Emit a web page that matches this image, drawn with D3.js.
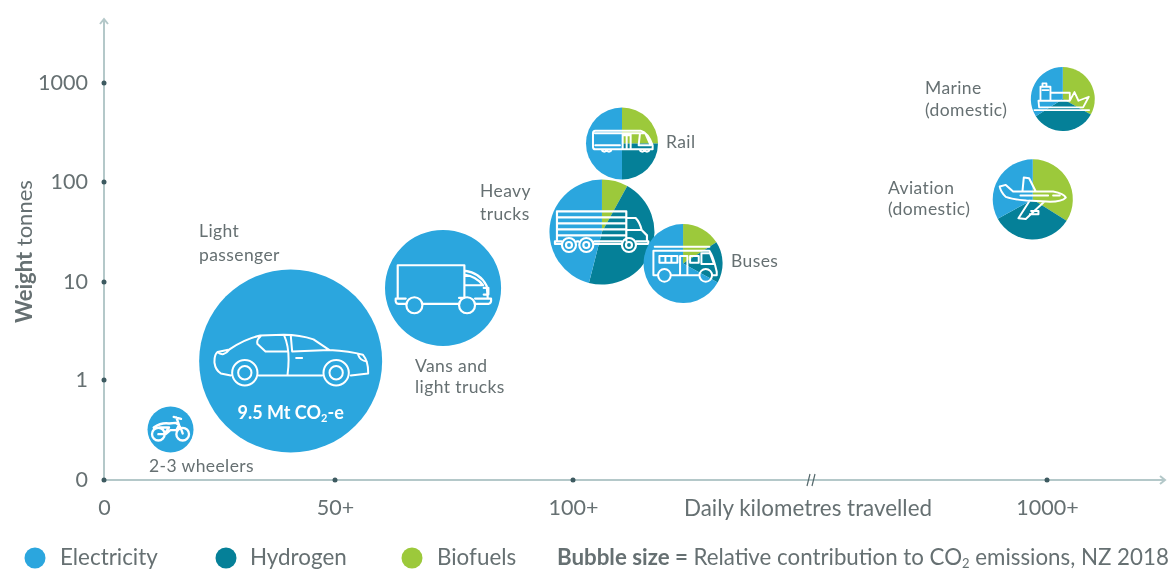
<!DOCTYPE html>
<html><head><meta charset="utf-8">
<style>
html,body{margin:0;padding:0;background:#fff;overflow:hidden}
svg{display:block;filter:blur(0.45px)}
text{font-family:Lato,"Open Sans",sans-serif;fill:#667072}
</style>
<script src="https://cdn.jsdelivr.net/npm/d3@7/dist/d3.min.js"></script>
</head><body><svg id="c" width="1170" height="570"></svg>
<script>
// ---- data ----
const categories = ["2-3 wheelers","Light passenger","Vans and light trucks","Heavy trucks","Rail","Buses","Marine (domestic)","Aviation (domestic)"];
const dailyKm    = [14.4,40.4,72.7,155,193,309,1030,973];
const weightT    = [0.32,1.56,8.7,31.6,245,15.3,688,67];
const emissionsMt= [0.6,9.5,3.82,3.13,1.47,1.77,1.16,1.82];
const biofuelShare  = [0,0,0,8,25,16,33,34];
const hydrogenShare = [0,0,0,46,25,17,33,33];
const electricityShare = [100,100,100,46,50,67,34,33];
const energyNames = ["Electricity","Hydrogen","Biofuels"];
const xTicks = [0,50,100,1000];
const xTickLabels = ["0","50+","100+","1000+"];
const yTicks = [0,1,10,100,1000];
const yTickLabels = ["0","1","10","100","1000"];

const colours = {Electricity:"#2ba6de",Hydrogen:"#058098",Biofuels:"#9cc93b"};
const svg = d3.select("#c");

// ---- scales ----
const x = d3.scaleLinear().domain(xTicks).range([104,335,573,1047]);
const level = v => v>0 ? Math.log10(v) : -1;
const yLevel = d3.scaleLinear().domain(yTicks.map(level)).range([480,380,282,182,83]);
const y = v => yLevel(level(v));
const r = d3.scaleSqrt().domain([0,9.5]).range([0,91.5]);

// ---- axes ----
const axisCol="#b4c8c9", dotCol="#3d5a60";
const gx = svg.append("g").attr("transform","translate(0,480)")
  .call(d3.axisBottom(x).tickValues(xTicks).tickFormat((d,i)=>xTickLabels[i]).tickSize(0).tickPadding(20));
const gy = svg.append("g").attr("transform","translate(104,0)")
  .call(d3.axisLeft(yLevel).tickValues(yTicks.map(level)).tickFormat((d,i)=>yTickLabels[i]).tickSize(0).tickPadding(16));
gx.select(".domain").remove(); gy.select(".domain").remove();
gx.selectAll("text").style("font-size","21.5px").style("font-family","Lato");
gy.selectAll("text").style("font-size","21.5px").style("font-family","Lato");
const axisG = svg.append("g").attr("fill","none").attr("stroke",axisCol).attr("stroke-width",2);
axisG.append("path").attr("d",`M${x(0)},${yLevel(-1)}H1165M1160,476L1165,480L1160,484`);
axisG.append("path").attr("d",`M${x(0)},${yLevel(-1)}V19M100,24L104,19L108,24`);
svg.append("g").selectAll("circle").data(xTicks).join("circle")
  .attr("cx",d=>x(d)).attr("cy",yLevel(-1)).attr("r",2.5).attr("fill",dotCol);
svg.append("g").selectAll("circle").data(yTicks.slice(1)).join("circle")
  .attr("cx",x(0)).attr("cy",d=>y(d)).attr("r",2.5).attr("fill",dotCol);
svg.append("path").attr("d","M807,486L810,474M812,486L815,474").attr("stroke","#55686c").attr("stroke-width",1.2).attr("fill","none");
svg.append("text").attr("x",684).attr("y",516).style("font-size","22.4px").text("Daily kilometres travelled");
const yt = svg.append("text").attr("transform","translate(32,323) rotate(-90)").style("font-size","22px");
yt.append("tspan").attr("font-weight",700).text("Weight");
yt.append("tspan").text(" tonnes");

// ---- bubbles ----
const arc = d3.arc().innerRadius(0);
const pie = d3.pie().sort(null).value(d=>d.v);
const bubbles = svg.append("g").selectAll("g").data(categories.map((c,i)=>({
   c,i,cx:x(dailyKm[i]),cy:y(weightT[i]),r:r(emissionsMt[i]),
   parts:[{k:"Biofuels",v:biofuelShare[i]},{k:"Hydrogen",v:hydrogenShare[i]},{k:"Electricity",v:electricityShare[i]}]
}))).join("g").attr("transform",d=>`translate(${d.cx},${d.cy})`);
bubbles.selectAll("path.s").data(d=>pie(d.parts).map(p=>({...p,R:d.r}))).join("path").attr("class","s")
  .attr("d",p=>arc.outerRadius(p.R)(p)).attr("fill",p=>colours[p.data.k]);

// ---- pictograms (drawn in their own local units, centred on each bubble) ----
const ring = (cx,cy,rad) => `M${cx-rad},${cy}a${rad},${rad} 0 1,1 ${2*rad},0a${rad},${rad} 0 1,1 ${-2*rad},0`;
const icons = [
 {o:[76.5,72],s:1/3,w:7,d:ring(40,86,19)+ring(113,86,19)+"M26,66Q50,50 72,54L92,52Q106,58 113,84M40,86H62L76,74H94L102,58L94,36M86,34L108,40M44,66H72L62,80"},
 {o:[271.5,123],s:1/3,w:6,d:"M92,166L62,160Q46,150 43,128Q42,104 52,96L88,88Q130,58 180,46L250,44Q300,44 340,58L388,90Q450,94 488,104Q505,125 504,160L452,166M176,166H366M182,48Q168,60 172,72L196,94H262M252,46Q272,90 262,166M272,48L276,94L388,90M288,114H306M52,96Q70,112 88,88M474,104Q480,122 500,124"+ring(134,158,38)+ring(134,158,20)+ring(408,158,38)+ring(408,158,20)},
 {o:[174,114],s:1/3,w:6.5,d:"M38,144V46H238V144M238,62Q285,68 305,108L308,144M238,74Q275,80 294,106H238M32,146H62M32,146Q30,162 40,162H62M114,162H220M272,162H310Q320,160 318,146H270M296,114H310V134H296M238,106V144H222"+ring(88,166,24)+ring(246,166,24)},
 {o:[171,96],s:1/3,w:6.5,d:"M36,34H244V122M36,34V122M36,52H244M36,70H244M36,88H244M36,106H244M244,54H272Q284,66 290,90L306,106V124M248,90H290M30,124H50M96,124H100M148,124H230M274,124H310V132H274M148,132H230M30,124V132H50"+ring(72,135,21)+ring(72,135,9)+ring(124,135,21)+ring(124,135,9)+ring(252,135,21)+ring(252,135,9)},
 {o:[246,160.5],s:1/3,w:6,d:"M166,122H302Q325,128 338,166V178H166Q159,178 159,170V130Q159,122 166,122ZM165,130H300M248,130V178M272,130V178M260,130V178M248,136H272M300,130H316L332,166H296ZM166,166H240M186,178a7,7 0 1,0 14,0M200,178a7,7 0 1,0 14,0M300,178a7,7 0 1,0 14,0M314,178a7,7 0 1,0 14,0"},
 {o:[429,520.5],s:1/3,w:6,d:"M344,470H508M340,482H508Q520,500 530,545V556H516M478,556H392M354,556H340V482M358,498H412V518H358ZM376,498V518M394,498V518M420,498H442V556H420ZM450,498H476V518H450ZM484,490H510L522,522H484Z"+ring(373,556,19)+ring(497,556,19)},
 {o:[99,87],s:1/3,w:5.5,d:"M28,112L26,92H120L134,66L146,92L177,80L160,112ZM32,92V50H62V92M38,50V40H50V50M62,68H120V92M38,60H56M14,120H178"},
 {o:[129,103.5],s:1/3,w:6,d:"M48,96Q32,80 30,65L48,60L70,80H190Q222,86 228,98Q215,112 170,110L110,107Q70,104 48,96ZM98,80L102,38L118,40L138,80M120,107L86,160L108,162L164,110M124,138H146V148H120M190,92H210M92,92H175"}
];
bubbles.filter(d=>icons[d.i]).append("path")
  .attr("d",d=>icons[d.i].d)
  .attr("transform",d=>{const k=icons[d.i];return `scale(${k.s}) translate(${-k.o[0]},${-k.o[1]})`;})
  .attr("fill","none").attr("stroke","#fff").attr("stroke-width",d=>icons[d.i].w).attr("stroke-linejoin","round").attr("stroke-linecap","round");

// in-bubble value label
const co2 = svg.append("text").attr("x",x(dailyKm[1])).attr("y",y(weightT[1])+58).attr("text-anchor","middle")
  .style("font-size","18px").style("font-weight",700).style("fill","#fff");
co2.append("tspan").text("9.5 Mt CO");
co2.append("tspan").attr("dy",3).style("font-size","11px").text("2");
co2.append("tspan").attr("dy",-3).text("-e");

// ---- bubble labels ----
const labelLines = [["2-3 wheelers"],["Light","passenger"],["Vans and","light trucks"],["Heavy","trucks"],["Rail"],["Buses"],["Marine","(domestic)"],["Aviation","(domestic)"]];
const labelAt = [[149,472,22],[199,237,24],[415,372,21],[480,197,23],[666,148,0],[731,267,0],[925,94,22],[888,194,21]];
labelLines.forEach((lines,i)=>{
  lines.forEach((t,j)=>svg.append("text").attr("x",labelAt[i][0]).attr("y",labelAt[i][1]+j*labelAt[i][2])
    .style("font-size","17.5px").style("letter-spacing","0.4px").text(t));
});

// ---- legend ----
const legendAt=[[35,60],[226,250],[412,437]];
energyNames.forEach((n,i)=>{
  svg.append("circle").attr("cx",legendAt[i][0]).attr("cy",558).attr("r",10.5).attr("fill",colours[n]);
  svg.append("text").attr("x",legendAt[i][1]).attr("y",565).style("font-size","22.4px").text(n);
});
const note = svg.append("text").attr("x",557).attr("y",565).style("font-size","22.3px");
note.append("tspan").attr("font-weight",700).text("Bubble size = ");
note.append("tspan").text("Relative contribution to CO");
note.append("tspan").attr("dy",3).style("font-size","13px").text("2");
note.append("tspan").attr("dy",-3).text(" emissions, NZ 2018");
</script></body></html>
